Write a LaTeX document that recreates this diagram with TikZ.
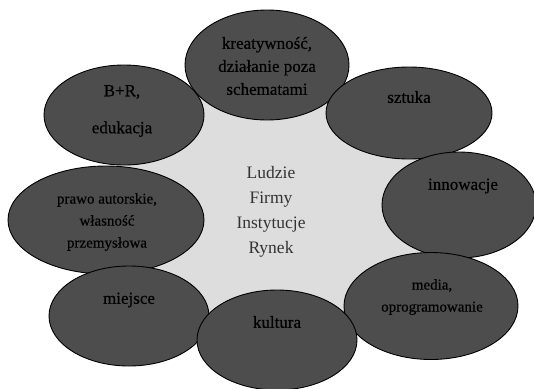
\documentclass[tikz,border=0pt]{standalone}
\usepackage{fontspec}
\setmainfont{Liberation Serif}
\newfontfamily\heavyserif[FakeBold=0.5]{Liberation Serif}
\usetikzlibrary{shapes.geometric}
\definecolor{darkfill}{RGB}{77,77,77}
\definecolor{lightfill}{RGB}{221,221,221}
\tikzset{
  bubble/.style={ellipse, draw=black, line width=0.9pt, fill=darkfill, inner sep=0pt},
  lbl/.style={align=center, text=black, font=\heavyserif\fontsize{17}{23}\selectfont},
  slbl/.style={align=center, text=black, font=\heavyserif\fontsize{15}{22}\selectfont},
}
\begin{document}
\begin{tikzpicture}[x=1pt,y=-1pt]
\useasboundingbox (0,0) rectangle (534,388);
\coordinate (ck) at (267,65);
\coordinate (cb) at (124,115);
\coordinate (cs) at (409,113);
\coordinate (ci) at (459,205);
\coordinate (cm) at (431,306);
\coordinate (cu) at (277,340);
\coordinate (cj) at (129,316);
\coordinate (cp) at (106,220);
% background
\fill[lightfill] (ck) -- (cs) -- (ci) -- (cm) -- (cu) -- (cj) -- (cp) -- (cb) -- cycle;
\node[bubble, minimum width=196pt, minimum height=108pt] (prawo) at (cp) {};
\node[bubble, minimum width=160pt, minimum height=100pt] (miejsce) at (cj) {};
\node[bubble, minimum width=164pt, minimum height=110pt] (kreat) at (ck) {};
\node[bubble, minimum width=160pt, minimum height=100pt] (br) at (cb) {};
\node[bubble, minimum width=166pt, minimum height=92pt] (sztuka) at (cs) {};
\node[bubble, minimum width=154pt, minimum height=106pt] (innow) at (ci) {};
\node[bubble, minimum width=174pt, minimum height=107pt] (media) at (cm) {};
\node[bubble, minimum width=160pt, minimum height=100pt] (kultura) at (cu) {};
% texts
\node[lbl] (tkreat) at (267,66) {kreatywność,\\działanie poza\\schematami};
\node[lbl] (tbr) at (122,111) {B+R,\\[14pt]edukacja};
\node[lbl] (tsztuka) at (409,97) {sztuka};
\node[lbl] (tinnow) at (463,186) {innowacje};
\node[slbl] (tprawo) at (107,222) {prawo autorskie,\\własność\\przemysłowa};
\node[lbl] (tmiejsce) at (129,300) {miejsce};
\node[lbl] (tkultura) at (277,322) {kultura};
\node[slbl] (tmedia) at (432,297) {media,\\oprogramowanie};
\node[align=center, text=black!80, font=\fontsize{17.5}{25}\selectfont] (center) at (271,212) {Ludzie\\Firmy\\Instytucje\\Rynek};
\end{tikzpicture}
\end{document}
